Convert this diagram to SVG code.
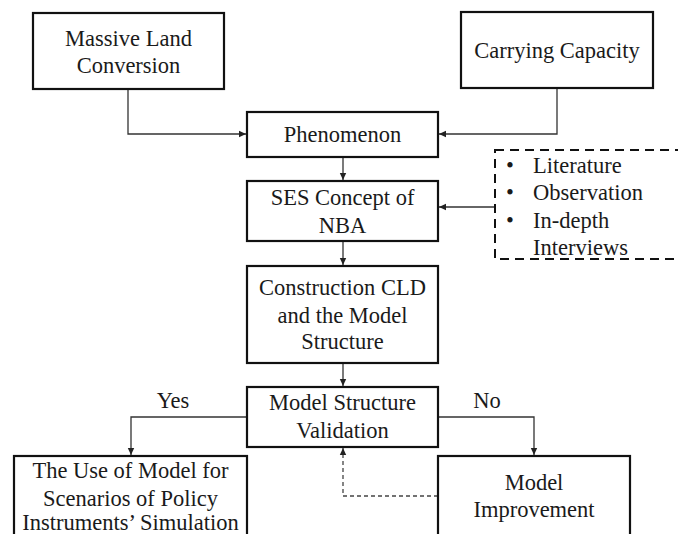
<svg xmlns="http://www.w3.org/2000/svg" width="678" height="534" viewBox="0 0 678 534">
<defs>
<marker id="ah" markerWidth="8" markerHeight="8" refX="7" refY="4" orient="auto" markerUnits="userSpaceOnUse">
<path d="M0,0.8 L7,4 L0,7.2 Z" fill="#222"/>
</marker>
<style>
.box{fill:#fff;stroke:#111;stroke-width:2.2}
.dbox{fill:none;stroke:#111;stroke-width:2;stroke-dasharray:9,6}
.t{font-family:"Liberation Serif","Times New Roman",serif;font-size:22.5px;fill:#1a1a1a;text-anchor:middle}
.tl{font-family:"Liberation Serif","Times New Roman",serif;font-size:22.5px;fill:#1a1a1a}
.c{fill:none;stroke:#333;stroke-width:1.3}
.cd{fill:none;stroke:#444;stroke-width:1.3;stroke-dasharray:4,3}
</style>
</defs>
<rect width="678" height="534" fill="#fff"/>
<g id="connectors">
<path class="c" d="M128,89 V134 H246" marker-end="url(#ah)"/>
<path class="c" d="M557,88 V134 H439" marker-end="url(#ah)"/>
<path class="c" d="M343,157 V180" marker-end="url(#ah)"/>
<path class="c" d="M495,207 H439" marker-end="url(#ah)"/>
<path class="c" d="M343,241 V265" marker-end="url(#ah)"/>
<path class="c" d="M343,363 V386" marker-end="url(#ah)"/>
<path class="c" d="M247,417 H131 V455" marker-end="url(#ah)"/>
<path class="c" d="M438,417 H534 V455" marker-end="url(#ah)"/>
<path class="cd" d="M438,496 H343 V448" marker-end="url(#ah)"/>
<text class="t" x="173" y="408">Yes</text>
<text class="t" x="487" y="408">No</text>
</g>
<g id="massive">
<rect class="box" x="33" y="13" width="191" height="76"/>
<text class="t" x="128.5" y="46">Massive Land</text>
<text class="t" x="128.5" y="73">Conversion</text>
</g>
<g id="carrying">
<rect class="box" x="461" y="12" width="192" height="76"/>
<text class="t" x="557" y="58">Carrying Capacity</text>
</g>
<g id="phenomenon">
<rect class="box" x="247" y="112" width="191" height="45"/>
<text class="t" x="342.5" y="142">Phenomenon</text>
</g>
<g id="sources">
<rect class="dbox" x="495" y="150" width="200" height="109"/>
<text class="tl" x="506" y="173">•</text>
<text class="tl" x="533" y="173">Literature</text>
<text class="tl" x="506" y="200">•</text>
<text class="tl" x="533" y="200">Observation</text>
<text class="tl" x="506" y="228">•</text>
<text class="tl" x="533" y="228">In-depth</text>
<text class="tl" x="533" y="255">Interviews</text>
</g>
<g id="ses">
<rect class="box" x="247" y="181" width="191" height="60"/>
<text class="t" x="342.5" y="205">SES Concept of</text>
<text class="t" x="342.5" y="233">NBA</text>
</g>
<g id="construction">
<rect class="box" x="247" y="266" width="191" height="97"/>
<text class="t" x="342.5" y="295">Construction CLD</text>
<text class="t" x="342.5" y="323">and the Model</text>
<text class="t" x="342.5" y="349">Structure</text>
</g>
<g id="validation">
<rect class="box" x="247" y="387" width="191" height="60"/>
<text class="t" x="342.5" y="410">Model Structure</text>
<text class="t" x="342.5" y="438">Validation</text>
</g>
<g id="use">
<rect class="box" x="14" y="456" width="233" height="90"/>
<text class="t" x="130.5" y="478">The Use of Model for</text>
<text class="t" x="130.5" y="506">Scenarios of Policy</text>
<text class="t" x="130.5" y="530">Instruments’ Simulation</text>
</g>
<g id="improvement">
<rect class="box" x="438" y="456" width="192" height="90"/>
<text class="t" x="534" y="490">Model</text>
<text class="t" x="534" y="517">Improvement</text>
</g>
</svg>
